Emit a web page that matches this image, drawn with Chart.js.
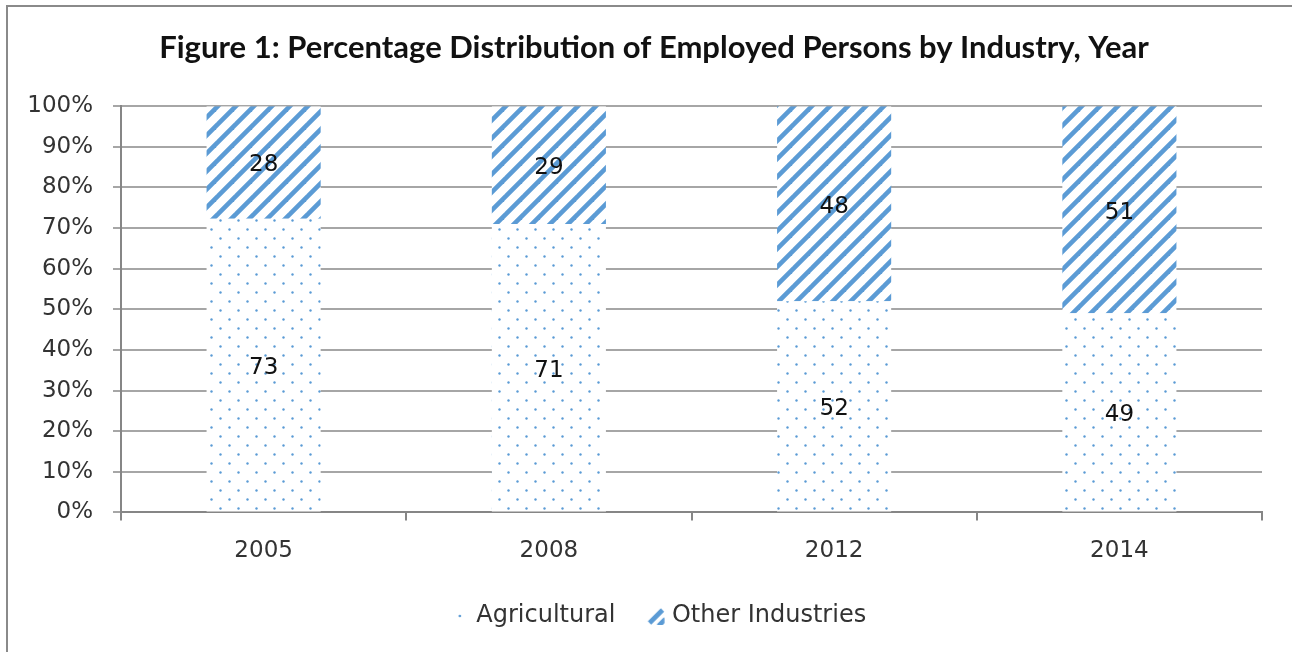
<!DOCTYPE html>
<html>
<head>
<meta charset="utf-8">
<script src="https://cdn.jsdelivr.net/npm/chart.js@4"></script>
<style>
  html, body { margin: 0; padding: 0; background: #fff; }
  #wrap { width: 1292px; height: 652px; }
</style>
</head>
<body>
<div id="wrap"><canvas id="chart" width="1292" height="652"></canvas></div>
<script>
const years = ["2005", "2008", "2012", "2014"];
const agricultural = [73, 71, 52, 49];
const otherIndustries = [28, 29, 48, 51];

const BLUE = "#5b9bd5";

/* PATTERNS */
function dotTile(size) {
  const c = document.createElement("canvas");
  c.width = size; c.height = size;
  const g = c.getContext("2d");
  g.fillStyle = "#fff";
  g.fillRect(0, 0, size, size);
  g.fillStyle = BLUE;
  g.beginPath(); g.arc(4.5, 4.5, 1.2, 0, Math.PI * 2); g.fill();
  g.beginPath(); g.arc(13.5, 13.5, 1.2, 0, Math.PI * 2); g.fill();
  return c;
}

function hatchTile(size) {
  const c = document.createElement("canvas");
  c.width = size; c.height = size;
  const g = c.getContext("2d");
  g.fillStyle = "#fff";
  g.fillRect(0, 0, size, size);
  g.strokeStyle = BLUE;
  g.lineWidth = 4.6;
  [-18, 0, 18].forEach(o => {
    g.beginPath();
    g.moveTo(o - 2, 20);
    g.lineTo(o + 20, -2);
    g.stroke();
  });
  return c;
}

const ctx = document.getElementById("chart").getContext("2d");
const dotFill = ctx.createPattern(dotTile(18), "repeat");
const hatchFill = ctx.createPattern(hatchTile(18), "repeat");

/* LEGEND ICONS (mark sits right of the image centre) */
const agriIcon = document.createElement("canvas");
agriIcon.width = 36; agriIcon.height = 12;
(function () {
  const g = agriIcon.getContext("2d");
  g.fillStyle = BLUE;
  g.beginPath(); g.arc(24.75, 6, 1.3, 0, Math.PI * 2); g.fill();
})();

const otherIcon = document.createElement("canvas");
otherIcon.width = 40; otherIcon.height = 18;
(function () {
  const g = otherIcon.getContext("2d");
  g.save();
  g.beginPath(); g.rect(17.75, 0, 18, 18); g.clip();
  g.translate(17.75, 0);
  g.strokeStyle = BLUE;
  g.lineWidth = 4.6;
  g.beginPath(); g.moveTo(3, 16); g.lineTo(16, 3); g.stroke();
  g.beginPath(); g.moveTo(12, 19); g.lineTo(19, 12); g.stroke();
  g.restore();
})();

/* 100% STACK */
const totals = years.map((_, i) => agricultural[i] + otherIndustries[i]);
const agriPct = agricultural.map((v, i) => v / totals[i] * 100);
const otherPct = otherIndustries.map((v, i) => v / totals[i] * 100);

const frame = {
  id: "frame",
  beforeDraw(chart) {
    const g = chart.ctx;
    g.save();
    g.fillStyle = "#fff";
    g.fillRect(0, 0, chart.width, chart.height);
    g.strokeStyle = "#8a8a8a";
    g.lineWidth = 2;
    g.beginPath();
    g.moveTo(7, chart.height + 5);
    g.lineTo(7, 6);
    g.lineTo(chart.width + 5, 6);
    g.stroke();
    g.restore();
  }
};

const barLabels = {
  id: "barLabels",
  afterDatasetsDraw(chart) {
    const g = chart.ctx;
    const raw = [agricultural, otherIndustries];
    g.save();
    g.font = "23px 'DejaVu Sans'";
    g.fillStyle = "#111";
    g.textAlign = "center";
    g.textBaseline = "middle";
    chart.data.datasets.forEach((ds, di) => {
      chart.getDatasetMeta(di).data.forEach((bar, i) => {
        g.fillText(String(raw[di][i]), bar.x, (bar.y + bar.base) / 2 + 3);
      });
    });
    g.restore();
  }
};

new Chart(ctx, {
  type: "bar",
  data: {
    labels: years,
    datasets: [
      {
        label: "Agricultural",
        data: agriPct,
        backgroundColor: dotFill,
        borderWidth: 0,
        barPercentage: 0.4,
        categoryPercentage: 1
      },
      {
        label: "Other Industries",
        data: otherPct,
        backgroundColor: hatchFill,
        borderWidth: 0,
        barPercentage: 0.4,
        categoryPercentage: 1
      }
    ]
  },
  options: {
    responsive: false,
    animation: false,
    layout: { padding: { left: 16, right: 0, top: 0, bottom: 14 } },
    plugins: {
      title: {
        display: true,
        text: "Figure 1: Percentage Distribution of Employed Persons by Industry, Year",
        color: "#111",
        font: { family: "Lato", weight: "bold", size: 31 },
        padding: { top: 29, bottom: 40 }
      },
      legend: {
        position: "bottom",
        labels: {
          usePointStyle: true,
          pointStyleWidth: 22.5,
          padding: 22,
          color: "#333",
          font: { family: "DejaVu Sans", size: 24 },
          generateLabels(chart) {
            const items = Chart.defaults.plugins.legend.labels.generateLabels(chart);
            items[0].pointStyle = agriIcon;
            items[1].pointStyle = otherIcon;
            return items;
          }
        }
      },
      tooltip: { enabled: false }
    },
    scales: {
      x: {
        stacked: true,
        grid: {
          drawOnChartArea: false,
          tickLength: 8,
          color: "#868686",
          lineWidth: 2
        },
        border: { color: "#868686", width: 2 },
        ticks: {
          color: "#333",
          padding: 17,
          font: { family: "DejaVu Sans", size: 23 }
        }
      },
      y: {
        stacked: true,
        min: 0,
        max: 100,
        afterFit(scale) { scale.width = 105; },
        grid: { color: "#a6a6a6", lineWidth: 2, tickLength: 8 },
        border: { color: "#868686", width: 2 },
        ticks: {
          stepSize: 10,
          color: "#333",
          padding: 20,
          font: { family: "DejaVu Sans", size: 23 },
          callback: v => v + "%"
        }
      },
      yRight: {
        position: "right",
        display: true,
        grid: { display: false },
        border: { display: false },
        ticks: { display: false },
        afterFit(scale) { scale.width = 30; }
      }
    }
  },
  plugins: [frame, barLabels]
});
</script>
</body>
</html>
